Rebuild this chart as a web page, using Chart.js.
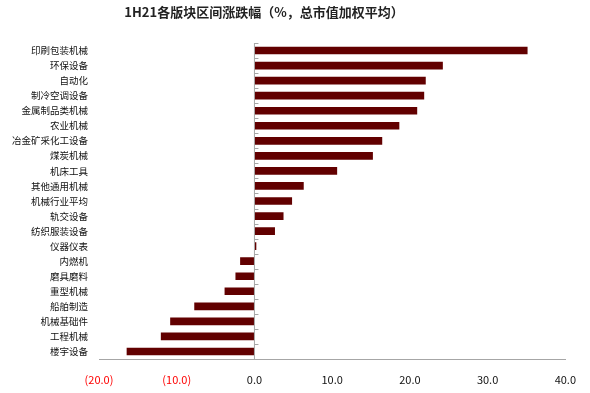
<!DOCTYPE html>
<html>
<head>
<meta charset="utf-8">
<script src="https://cdn.jsdelivr.net/npm/chart.js@4"></script>
<style>
  body { margin: 0; background: #fff; }
  #wrap { position: relative; width: 590px; height: 393px; }
  #title {
    position: absolute; top: 2px; left: 0; width: 528px; text-align: center;
    font: bold 13px "Noto Sans CJK SC", sans-serif; color: #222;
  }
</style>
</head>
<body>
<div id="wrap">
  <div id="title">1H21各版块区间涨跌幅（%，总市值加权平均）</div>
  <canvas id="myChart" width="590" height="393"></canvas>
</div>
<script>
var categories = ['印刷包装机械', '环保设备', '自动化', '制冷空调设备', '金属制品类机械', '农业机械',
    '冶金矿采化工设备', '煤炭机械', '机床工具', '其他通用机械', '机械行业平均', '轨交设备',
    '纺织服装设备', '仪器仪表', '内燃机', '磨具磨料', '重型机械', '船舶制造', '机械基础件',
    '工程机械', '楼宇设备'];
var changes = [35.1, 24.2, 22.0, 21.8, 20.9, 18.6, 16.4, 15.2, 10.6, 6.3, 4.8, 3.7,
    2.6, 0.2, -1.8, -2.4, -3.8, -7.7, -10.8, -12.0, -16.4];
var xTicks = [-20, -10, 0, 10, 20, 30, 40];

// zero line with small tick marks at the category boundaries
var zeroAxis = {
    id: 'zeroAxis',
    afterDatasetsDraw: function(chart) {
        var ctx = chart.ctx;
        var x0 = chart.scales.x.getPixelForValue(0);
        var area = chart.chartArea;
        ctx.save();
        ctx.strokeStyle = '#a6a6a6';
        ctx.lineWidth = 1;
        ctx.beginPath();
        ctx.moveTo(x0, area.top);
        ctx.lineTo(x0, area.bottom);
        var step = (area.bottom - area.top) / categories.length;
        for (var i = 0; i <= categories.length; i++) {
            var yy = Math.round(area.top + i * step) + 0.5;
            ctx.moveTo(x0, yy);
            ctx.lineTo(x0 + 4, yy);
        }
        ctx.stroke();
        ctx.restore();
    }
};

var ctx = document.getElementById('myChart').getContext('2d');
var myChart = new Chart(ctx, {
    type: 'bar',
    data: {
        labels: categories,
        datasets: [{
            data: changes,
            backgroundColor: '#620000',
            barThickness: 7
        }]
    },
    options: {
        indexAxis: 'y',
        responsive: false,
        animation: false,
        layout: { padding: { top: 43, right: 23, left: 0, bottom: 0 } },
        plugins: {
            legend: { display: false },
            tooltip: { enabled: false }
        },
        scales: {
            x: {
                min: -20,
                max: 40,
                afterBuildTicks: function(scale) {
                    scale.ticks = xTicks.map(function(v) { return { value: v }; });
                },
                afterFit: function(scale) { scale.height = 34; },
                grid: { drawOnChartArea: false, drawTicks: false },
                border: { display: true, color: '#a6a6a6' },
                ticks: {
                    padding: 14,
                    font: { family: '"Noto Sans CJK SC", sans-serif', size: 11 },
                    color: function(c) { return c.tick.value < 0 ? '#ff0000' : '#111'; },
                    callback: function(v) {
                        return v < 0 ? '(' + Math.abs(v).toFixed(1) + ')' : v.toFixed(1);
                    }
                }
            },
            y: {
                afterFit: function(scale) { scale.width = 99; },
                grid: { display: false, drawTicks: false },
                border: { display: false },
                ticks: {
                    padding: 11,
                    autoSkip: false,
                    font: { family: '"Noto Sans CJK SC", sans-serif', size: 9.5 },
                    color: '#111'
                }
            }
        }
    },
    plugins: [zeroAxis]
});
</script>
</body>
</html>
